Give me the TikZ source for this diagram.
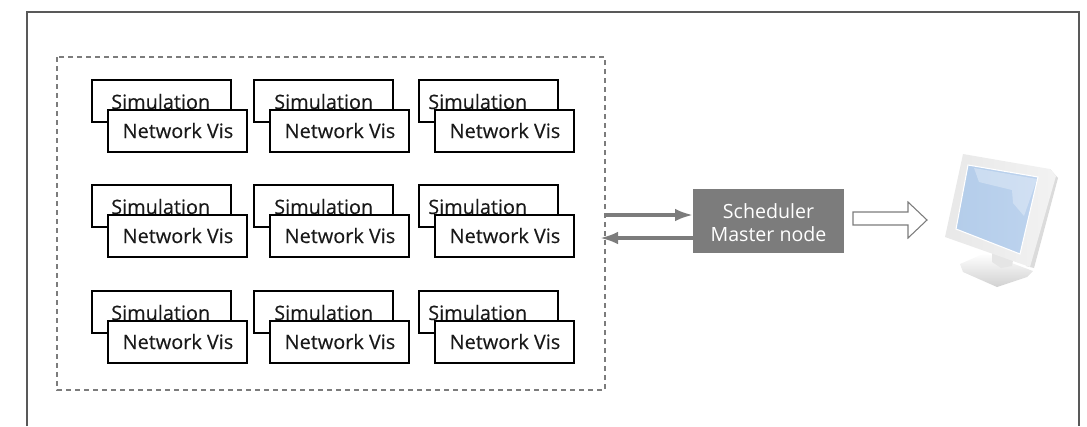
\documentclass[tikz,border=0pt]{standalone}
\usepackage{fontspec}
\setmainfont{Open Sans}
\newfontfamily\cellfont[RawFeature={embolden=0.25}]{Open Sans}
\usetikzlibrary{arrows.meta,shadings}
\definecolor{gr}{HTML}{7C7C7C}
\definecolor{scr}{HTML}{B4CDEA}
\definecolor{scrb}{HTML}{BDD3EE}
\tikzset{x=0.75pt,y=-0.75pt,
 frameline/.style={draw=black!65,line width=1.3pt},
 simbox/.style={draw=black,fill=white,line width=2pt,outer sep=0pt,inner sep=0pt,minimum width=104.25pt,minimum height=31.5pt,anchor=north west},
 celllabel/.style={font=\cellfont\fontsize{14.9}{16}\selectfont,text=black!90,inner sep=0pt},
 dashbox/.style={draw=gr,line width=2pt,dash pattern=on 3.9pt off 2.85pt},
 conn/.style={draw=gr,line width=2.5pt,-{Latex[length=13.5pt,width=9.5pt]}},
}
\newcommand{\cell}[4]{% x vis-left, y sim top, sim text x, name
 \node[simbox] (s#4) at (#1-16,#2) {};
 \node[celllabel,anchor=base west] (st#4) at (#3,#2+29) {Simulation};
 \node[simbox] (v#4) at (#1,#2+30) {};
 \node[celllabel,anchor=base] (vt#4) at (#1+70,#2+58) {Network Vis};
}
\begin{document}
\begin{tikzpicture}
\useasboundingbox (0,0) rectangle (1087,426);
\path[frameline] (27,426) -- (27,12) -- (1079,12) -- (1079,426);
\draw[dashbox] (57,57) rectangle (605,390);
\foreach \yy/\rr in {80/a,185/b,291/c}{
 \cell{108}{\yy}{111}{\rr1}
 \cell{270}{\yy}{274}{\rr2}
 \cell{435}{\yy}{428}{\rr3}
}
\node[fill=gr,minimum width=113.25pt,minimum height=48pt,inner sep=0pt,outer sep=0pt] (schbox) at (768.5,221) {};
\node[align=center,text=white,inner sep=0pt,font=\fontsize{14.7}{17.2}\selectfont] (sch) at (768.5,223) {Scheduler\\Master node};
\coordinate (d1) at (605,215);
\coordinate (d2) at (600,238);
\draw[conn] (d1) -- (schbox.west |- d1);
\draw[conn] (schbox.west |- d2) -- (d2);
\draw[draw=gr,fill=white,line width=0.8pt] (853,212) -- (908,212) -- (908,202) -- (927,220) -- (908,238) -- (908,225) -- (853,225) -- cycle;
% monitor
\shade[top color=white,bottom color=black!18] (960,264) -- (985,253) -- (1033,271) -- (1027,277) -- (997,287) -- (963,272) -- cycle;
\fill[black!10] (992,250) -- (992,262) -- (1001,268) -- (1012,266) -- (1014,255) -- cycle;
\fill[black!14] (1050,169) -- (1058,178) -- (1034,268) -- (1026,266) -- cycle;
\shade[left color=black!9,right color=black!5] (963,154) -- (1050,169) -- (1056,176) -- (1030,267) -- (945,237) -- cycle;
\shade[left color=scr,right color=scrb,draw=white,line width=.8pt] (968,165) -- (1038,177) -- (1020,254) -- (956,229) -- cycle;
\fill[white,opacity=.3] (974,168) -- (1037,179) -- (1024,216) -- (1013,203) -- (1012,190) -- (979,182) -- cycle;
\end{tikzpicture}
\end{document}
